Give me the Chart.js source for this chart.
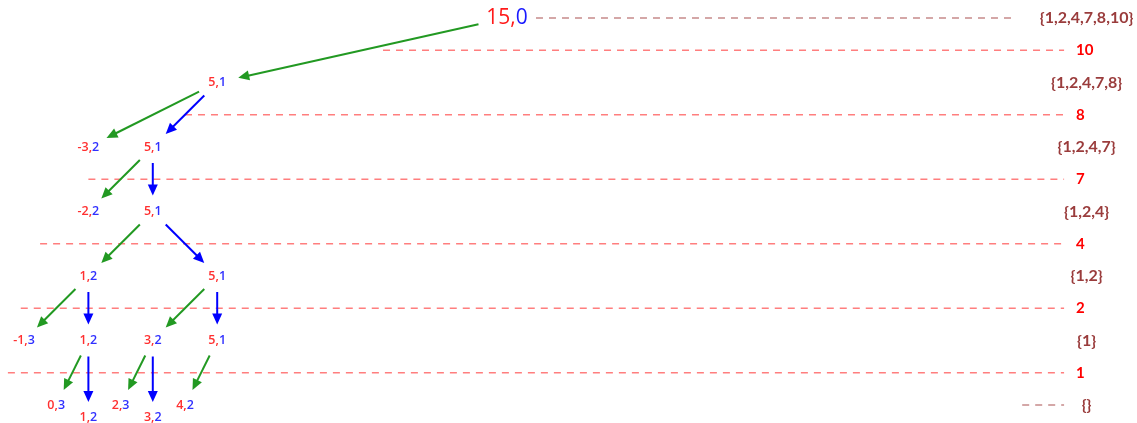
<!DOCTYPE html>
<html>
<head>
<meta charset="utf-8">
<script src="https://cdn.jsdelivr.net/npm/chart.js@4"></script>
<style>
  html, body { margin: 0; padding: 0; background: #fff; }
  #tree { display: block; }
</style>
</head>
<body>
<canvas id="tree" width="1137" height="423"></canvas>
<script>
// tree nodes: "amount,coin" pairs, placed on a grid (column, level)
const nodeAmount = [15, 5, -3, 5, -2, 5, 1, 5, -1, 1, 3, 5, 0, 1, 2, 3, 4];
const nodeCoin   = [0, 1, 2, 1, 2, 1, 2, 1, 3, 2, 2, 1, 3, 2, 3, 2, 2];
const nodeColumn = [15, 6, 2, 4, 2, 4, 2, 6, 0, 2, 4, 6, 1, 2, 3, 4, 5];
const nodeLevel  = [0, 1, 2, 2, 3, 3, 4, 4, 5, 5, 5, 5, 6, 6.2, 6, 6.2, 6];

// edges: parent -> child, "take" = green, "skip" = blue
const edgeFrom = [0, 1, 1, 3, 3, 5, 5, 6, 6, 7, 7, 9, 9, 10, 10, 11];
const edgeTo   = [1, 2, 3, 4, 5, 6, 7, 8, 9, 10, 11, 12, 13, 14, 15, 16];
const edgeKind = ["take", "take", "skip", "take", "skip", "take", "skip", "take", "skip",
                  "take", "skip", "take", "skip", "take", "skip", "take"];

// threshold lines between levels
const thresholds     = [10, 8, 7, 4, 2, 1];
const thresholdLevel = [0.5, 1.5, 2.5, 3.5, 4.5, 5.5];
const thresholdStart = [11.15, 5, 2, 0.5, -0.1, -0.5];
const thresholdEnd   = 32.3;

// coin sets shown on the right of each level
const coinSets     = ["{1,2,4,7,8,10}", "{1,2,4,7,8}", "{1,2,4,7}", "{1,2,4}", "{1,2}", "{1}", "{}"];
const coinSetLevel = [0, 1, 2, 3, 4, 5, 6];
const coinSetColumn = 33;
const guideStart = [15.9, 31];
const guideEnd   = [30.8, 32.3];
const guideLevel = [0, 6];

const GREEN = "#229922";
const BLUE = "#0000ff";

document.addEventListener("DOMContentLoaded", () => {
  const ctx = document.getElementById("tree").getContext("2d");

  const datasets = [];
  thresholds.forEach((t, i) => {
    datasets.push({
      label: "limit " + t,
      data: [{ x: thresholdStart[i], y: thresholdLevel[i] }, { x: thresholdEnd, y: thresholdLevel[i] }],
      showLine: true,
      borderColor: "rgba(255, 40, 40, 0.6)",
      borderWidth: 1.5,
      borderDash: [7, 6],
      pointRadius: 0,
      clip: false,
    });
  });
  guideLevel.forEach((lv, i) => {
    datasets.push({
      label: "guide " + i,
      data: [{ x: guideStart[i], y: lv }, { x: guideEnd[i], y: lv }],
      showLine: true,
      borderColor: "rgba(160, 60, 60, 0.6)",
      borderWidth: 1.5,
      borderDash: [7, 6],
      pointRadius: 0,
      clip: false,
    });
  });
  datasets.push({
    label: "nodes",
    data: nodeAmount.map((a, i) => ({ x: nodeColumn[i], y: nodeLevel[i] })),
    pointRadius: 0,
    clip: false,
  });

  const treePlugin = {
    id: "treePlugin",
    afterDatasetsDraw(chart) {
      const c = chart.ctx;
      const xs = chart.scales.x;
      const ys = chart.scales.y;
      const px = (i) => xs.getPixelForValue(nodeColumn[i]);
      const py = (i) => ys.getPixelForValue(nodeLevel[i]);
      const radius = (i) => (i === 0 ? [32, 14] : [22, 16]);

      function clipDist(dx, dy, r) {
        const len = Math.hypot(dx, dy);
        const ux = dx / len, uy = dy / len;
        return 1 / Math.sqrt((ux / r[0]) ** 2 + (uy / r[1]) ** 2);
      }

      // edges with arrowheads
      edgeFrom.forEach((from, k) => {
        const to = edgeTo[k];
        const x1 = px(from), y1 = py(from), x2 = px(to), y2 = py(to);
        const dx = x2 - x1, dy = y2 - y1;
        const len = Math.hypot(dx, dy);
        const ux = dx / len, uy = dy / len;
        const s = clipDist(dx, dy, radius(from));
        const e = clipDist(dx, dy, radius(to));
        const sx = x1 + ux * s, sy = y1 + uy * s;
        const ex = x2 - ux * e, ey = y2 - uy * e;
        const color = edgeKind[k] === "take" ? GREEN : BLUE;
        const head = 11, half = 5;
        c.save();
        c.strokeStyle = color;
        c.fillStyle = color;
        c.lineWidth = 2;
        c.beginPath();
        c.moveTo(sx, sy);
        c.lineTo(ex - ux * head * 0.8, ey - uy * head * 0.8);
        c.stroke();
        c.beginPath();
        c.moveTo(ex, ey);
        c.lineTo(ex - ux * head - uy * half, ey - uy * head + ux * half);
        c.lineTo(ex - ux * head + uy * half, ey - uy * head - ux * half);
        c.closePath();
        c.fill();
        c.restore();
      });

      // node labels: amount (red), coin index (blue)
      nodeAmount.forEach((a, i) => {
        const font = i === 0 ? "21px 'Open Sans', sans-serif" : "600 12.5px 'Open Sans', sans-serif";
        c.save();
        c.font = font;
        c.textBaseline = "middle";
        const left = a + ",";
        const right = String(nodeCoin[i]);
        const w = c.measureText(left + right).width;
        const x0 = px(i) - w / 2;
        c.fillStyle = i === 0 ? "#ff1a1a" : "#ff3030";
        c.fillText(left, x0, py(i));
        c.fillStyle = i === 0 ? "#1a1aff" : "#3030ff";
        c.fillText(right, x0 + c.measureText(left).width, py(i));
        c.restore();
      });

      // threshold values
      c.save();
      c.font = "bold 15px Lato, sans-serif";
      c.fillStyle = "#ff0000";
      c.textBaseline = "middle";
      thresholds.forEach((t, i) => {
        c.fillText(String(t), xs.getPixelForValue(thresholdEnd) + 12, ys.getPixelForValue(thresholdLevel[i]));
      });
      c.restore();

      // coin sets
      c.save();
      c.font = "bold 16px Lato, sans-serif";
      c.fillStyle = "#9a3c3c";
      c.textBaseline = "middle";
      c.textAlign = "center";
      coinSets.forEach((s, i) => {
        c.fillText(s, xs.getPixelForValue(coinSetColumn), ys.getPixelForValue(coinSetLevel[i]));
      });
      c.restore();
    },
  };

  new Chart(ctx, {
    type: "scatter",
    data: { datasets },
    options: {
      responsive: false,
      animation: false,
      layout: { padding: 0 },
      scales: {
        x: { type: "linear", min: -0.745, max: 34.565, display: false },
        y: { type: "linear", min: -0.279, max: 6.279, reverse: true, display: false },
      },
      plugins: {
        legend: { display: false },
        tooltip: { enabled: false },
      },
    },
    plugins: [treePlugin],
  });
});
</script>
</body>
</html>
